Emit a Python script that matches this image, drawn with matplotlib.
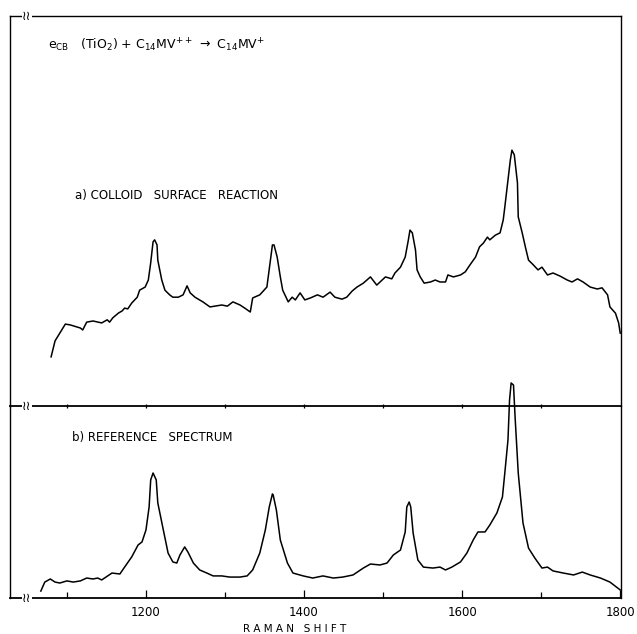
import matplotlib
matplotlib.use("Agg")
import matplotlib.pyplot as plt

# a) colloid surface reaction (Raman shift, cm-1 / intensity, arb. units)
shift_a = [1080, 1085, 1091, 1098, 1104, 1117, 1120, 1125, 1133, 1144, 1151, 1154,
           1158, 1165, 1170, 1173, 1177, 1182, 1189, 1192, 1199, 1203, 1206, 1209,
           1211, 1214, 1215, 1220, 1224, 1230, 1234, 1241, 1247, 1252, 1256, 1262,
           1272, 1281, 1287, 1296, 1303, 1310, 1319, 1325, 1332, 1335, 1344, 1353,
           1357, 1360, 1362, 1366, 1370, 1373, 1380, 1385, 1389, 1395, 1401, 1408,
           1417, 1424, 1433, 1439, 1448, 1454, 1461, 1467, 1475, 1484, 1492, 1503,
           1511, 1515, 1522, 1528, 1532, 1534, 1537, 1541, 1543, 1547, 1552, 1560,
           1566, 1572, 1579, 1582, 1589, 1598, 1604, 1610, 1617, 1622, 1627, 1632,
           1635, 1642, 1648, 1652, 1654, 1657, 1661, 1663, 1666, 1670, 1671, 1676,
           1680, 1684, 1690, 1696, 1701, 1708, 1715, 1724, 1733, 1739, 1746, 1753,
           1762, 1771, 1777, 1784, 1787, 1794, 1798, 1800]
int_a = [12.6, 16.7, 18.7, 21.0, 20.8, 20.0, 19.5, 21.5, 21.8, 21.3, 22.1, 21.5,
         22.6, 23.8, 24.4, 25.1, 24.9, 26.4, 27.9, 29.7, 30.5, 32.3, 36.7, 42.1,
         42.6, 41.3, 37.4, 32.3, 29.7, 28.5, 27.9, 27.9, 28.5, 30.8, 29.0, 27.9,
         26.7, 25.4, 25.6, 25.9, 25.6, 26.7, 25.9, 25.1, 24.1, 27.7, 28.5, 30.5,
         36.7, 41.3, 41.3, 38.2, 33.1, 29.7, 26.7, 27.9, 27.2, 29.0, 27.2, 27.7,
         28.5, 27.9, 29.2, 27.9, 27.4, 27.9, 29.5, 30.5, 31.5, 33.1, 31.0, 33.1,
         32.6, 34.1, 35.6, 38.2, 42.6, 45.1, 44.4, 40.0, 34.9, 33.1, 31.5, 31.8,
         32.3, 31.8, 31.8, 33.6, 33.1, 33.6, 34.4, 36.2, 38.2, 40.8, 41.8, 43.3,
         42.6, 43.8, 44.4, 47.7, 51.0, 56.2, 63.1, 65.6, 64.4, 57.2, 48.5, 44.4,
         40.8, 37.4, 36.2, 34.9, 35.6, 33.6, 34.1, 33.3, 32.3, 31.8, 32.6, 31.8,
         30.5, 30.0, 30.3, 28.5, 25.4, 23.8, 21.3, 18.7]

# b) reference spectrum
shift_b = [1067, 1072, 1079, 1085, 1091, 1100, 1108, 1117, 1125, 1133, 1139, 1144,
           1157, 1167, 1173, 1182, 1190, 1195, 1200, 1204, 1206, 1209, 1213, 1215,
           1222, 1228, 1234, 1239, 1243, 1249, 1253, 1260, 1268, 1277, 1285, 1296,
           1306, 1319, 1328, 1335, 1344, 1351, 1356, 1360, 1361, 1365, 1370, 1379,
           1386, 1399, 1411, 1424, 1437, 1449, 1462, 1475, 1484, 1496, 1505, 1513,
           1522, 1528, 1530, 1533, 1535, 1538, 1544, 1551, 1563, 1572, 1579, 1587,
           1598, 1606, 1614, 1620, 1629, 1635, 1644, 1651, 1654, 1658, 1660, 1662,
           1665, 1667, 1671, 1677, 1684, 1692, 1701, 1708, 1715, 1728, 1741, 1752,
           1762, 1775, 1787, 1800]
int_b = [3.6, 8.3, 9.9, 8.3, 7.8, 8.9, 8.3, 8.9, 10.4, 9.9, 10.4, 9.4,
         13.0, 12.5, 16.1, 21.4, 27.6, 29.2, 35.4, 47.4, 61.5, 65.1, 61.5, 49.5,
         35.4, 23.4, 18.8, 18.2, 22.4, 26.6, 24.0, 18.2, 14.6, 13.0, 11.5, 11.5,
         10.9, 10.9, 11.5, 14.6, 23.4, 35.4, 47.4, 54.2, 53.6, 45.8, 30.2, 18.2,
         13.0, 11.5, 10.4, 11.5, 10.4, 10.9, 12.0, 15.6, 17.7, 17.2, 18.2, 22.4,
         25.0, 34.4, 47.4, 50.0, 47.4, 33.9, 19.8, 16.1, 15.6, 16.1, 14.6, 16.1,
         18.8, 23.4, 30.2, 34.4, 34.4, 38.0, 44.3, 52.6, 65.1, 82.3, 103.1, 112.0,
         110.9, 94.3, 65.1, 39.1, 26.0, 20.8, 15.6, 16.1, 14.1, 13.0, 12.0, 13.5,
         12.0, 10.4, 8.3, 4.2]

major_ticks = [1200, 1400, 1600, 1800]
minor_ticks = [1100, 1300, 1500, 1700]
mid_ticks = [1100, 1200, 1300, 1400, 1500, 1600, 1700]

W, H = 637, 634
fig = plt.figure(figsize=(W / 100, H / 100), dpi=100)
plt.rcParams["font.family"] = ["DejaVu Sans"]

left, right = 10 / W, 621 / W
ax_a = fig.add_axes([left, (H - 406) / H, right - left, 390 / H])
ax_b = fig.add_axes([left, (H - 598) / H, right - left, 192 / H])
ax_b.patch.set_visible(False)

xlim = (1028, 1801)
for ax in (ax_a, ax_b):
    ax.set_xlim(*xlim)
    ax.set_ylim(0, 100)
    ax.set_yticks([])
    for s in ax.spines.values():
        s.set_linewidth(1.0)
        s.set_color("black")

ax_a.plot(shift_a, int_a, color="black", lw=1.1, solid_joinstyle="round")
ax_b.plot(shift_b, int_b, color="black", lw=1.1, solid_joinstyle="round",
          clip_on=False)

# middle axis (bottom of top panel): small crossing ticks, no labels
ax_a.set_xticks(mid_ticks)
ax_a.tick_params(axis="x", direction="inout", length=3, width=0.9, labelbottom=False)
ax_a.spines["bottom"].set_linewidth(1.3)

ax_b.spines["top"].set_visible(False)
ax_b.spines["bottom"].set_linewidth(1.3)
ax_b.set_xticks(major_ticks)
ax_b.set_xticks(minor_ticks, minor=True)
ax_b.set_xticklabels([str(t) for t in major_ticks])
ax_b.tick_params(axis="x", which="major", direction="in", length=6, width=0.9,
                 labelsize=8.5, pad=6)
ax_b.tick_params(axis="x", which="minor", direction="in", length=4, width=0.9)

# axis break marks
for yp in (16, 406, 598):
    fig.text(27 / W, 1 - yp / H, "\u2240\u2240", ha="center", va="center",
             fontsize=9, bbox=dict(facecolor="white", edgecolor="none", pad=0.2))

fig.text(48 / W, 1 - 45 / H,
         r"e$_{\rm CB}$   (TiO$_2$) + C$_{14}$MV$^{++}$ $\rightarrow$ C$_{14}$MV$^{+}$",
         ha="left", va="center", fontsize=9)
fig.text(75 / W, 1 - 195 / H, "a) COLLOID   SURFACE   REACTION",
         ha="left", va="center", fontsize=8.5)
fig.text(72 / W, 1 - 438 / H, "b) REFERENCE   SPECTRUM",
         ha="left", va="center", fontsize=8.5)
fig.text(295 / W, 1 - 629 / H, "R A M A N   S H I F T",
         ha="center", va="center", fontsize=7.5)

fig.savefig("out.png", dpi=100)
